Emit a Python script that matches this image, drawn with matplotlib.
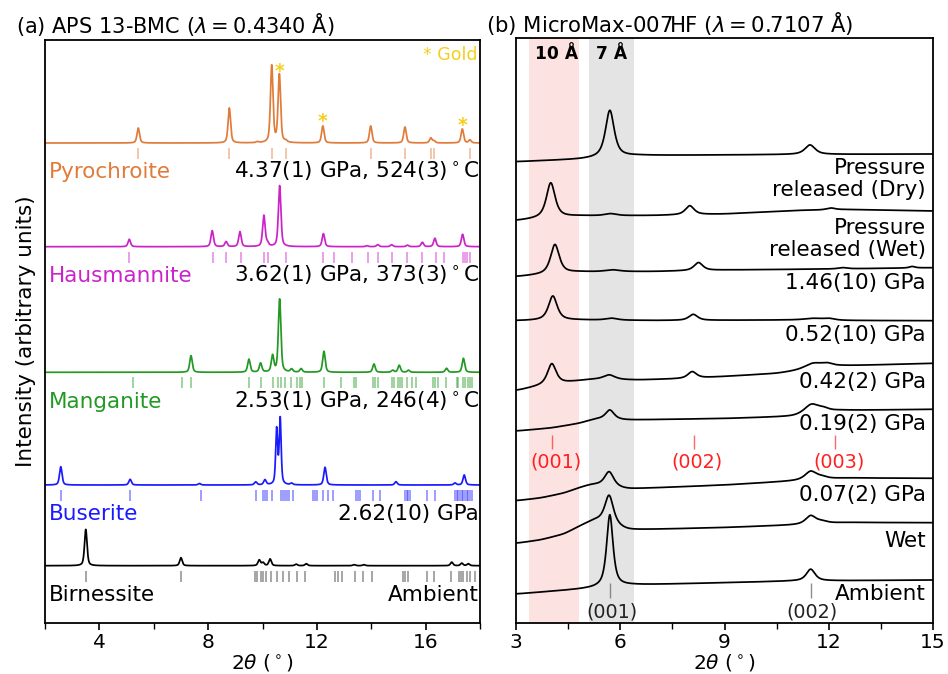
import numpy as np
import matplotlib
matplotlib.use("Agg")
import matplotlib.pyplot as plt

plt.rcParams['font.family'] = ['DejaVu Sans']
plt.rcParams['mathtext.fontset'] = 'dejavusans'

# ---------------- Panel (a) data : APS 13-BMC ----------------
phase_names = ["Pyrochroite", "Hausmannite", "Manganite", "Buserite", "Birnessite"]
phase_conditions = ["4.37(1) GPa, 524(3)$^\\circ$C", "3.62(1) GPa, 373(3)$^\\circ$C",
                    "2.53(1) GPa, 246(4)$^\\circ$C", "2.62(10) GPa", "Ambient"]
phase_colors = ["#e07b39", "#cc22cc", "#229922", "#1a1aff", "#000000"]
phase_tick_colors = ["#e07b39", "#cc22cc", "#229922", "#1a1aff", "#303030"]
phase_offsets = [480.0, 376.3, 250.7, 138.0, 57.3]

pyro_pos = [5.43, 8.78, 9.81, 10.34, 10.62, 10.86, 12.22, 13.98, 15.24, 16.19, 16.31, 17.35, 17.63]
pyro_h = [15, 35, 1, 77, 68, 1.5, 17, 17, 16, 5, 2, 14, 3]
pyro_ticks = [5.43, 8.78, 10.34, 10.86, 13.98, 15.24, 16.19, 16.31, 17.63]

haus_pos = [5.10, 8.15, 8.66, 9.17, 10.05, 10.18, 10.63, 12.24, 13.84, 14.24, 14.75, 15.33, 15.88, 16.34, 17.36]
haus_h = [7.4, 16, 5, 15, 31, 3, 61, 13, 1, 2, 2, 1.5, 4.4, 8.4, 12.4]
haus_ticks = [5.10, 8.19, 8.66, 9.21, 10.06, 10.19, 10.85, 12.24, 12.64, 13.28, 13.89, 14.26, 14.75,
              15.33, 15.88, 16.38, 16.69, 17.36, 17.45, 17.53, 17.63]

mang_pos = [7.37, 9.50, 9.93, 10.37, 10.63, 11.07, 11.42, 12.26, 14.10, 14.79, 15.03, 15.37, 16.77, 17.39]
mang_h = [16.7, 13, 9, 16.3, 73, 3, 3.5, 21, 8.3, 2, 7, 2, 4, 14]
mang_ticks = [5.22, 7.03, 7.37, 9.50, 9.93, 10.40, 10.56, 10.68, 10.83, 11.04, 11.26, 11.38, 11.47,
              12.26, 12.88, 13.38, 13.44, 14.08, 14.14, 14.24, 14.75, 14.84, 15.00, 15.06, 15.14,
              15.33, 15.49, 15.65, 16.28, 16.34, 16.44, 16.74, 17.14, 17.20, 17.39, 17.45, 17.57,
              17.63, 17.69]

bus_pos = [2.58, 5.13, 7.68, 9.75, 10.09, 10.52, 10.65, 11.07, 12.30, 14.91, 17.08, 17.42]
bus_h = [18.3, 5.7, 1.5, 3, 5, 55, 65.7, 1.5, 17.7, 3.3, 2, 10]
bus_ticks = [2.58, 5.13, 7.74, 9.75, 10.03, 10.09, 10.15, 10.34, 10.68, 10.74, 10.83, 10.91, 10.99,
             11.13, 11.87, 11.93, 11.99, 12.24, 12.40, 12.58, 13.44, 13.52, 13.59, 14.08, 14.32,
             15.24, 15.30, 15.36, 15.42, 16.04, 16.34, 17.08, 17.14, 17.20, 17.26, 17.32, 17.39,
             17.45, 17.51, 17.57, 17.63, 17.69]

birn_pos = [3.50, 7.0, 9.88, 10.02, 10.28, 11.24, 11.61, 13.37, 13.73, 16.96, 17.33, 17.57]
birn_h = [36.3, 8, 5.7, 3, 6.7, 1.5, 2, 1, 1, 3.5, 2.5, 2]
birn_ticks = [3.51, 7.00, 9.72, 9.81, 9.93, 10.03, 10.12, 10.30, 10.52, 10.74, 10.99, 11.26, 11.56,
              12.67, 12.79, 12.91, 13.40, 13.71, 14.01, 15.18, 15.24, 15.36, 16.04, 16.31, 16.92,
              17.24, 17.30, 17.36, 17.51, 17.63, 17.82]

phase_peaks = [(pyro_pos, pyro_h), (haus_pos, haus_h), (mang_pos, mang_h), (bus_pos, bus_h), (birn_pos, birn_h)]
phase_ticks = [pyro_ticks, haus_ticks, mang_ticks, bus_ticks, birn_ticks]
gold_peaks = [10.62, 12.22, 17.35]

# ---------------- Panel (b) data : MicroMax-007HF ----------------
lab_labels = ["Pressure\nreleased (Dry)", "Pressure\nreleased (Wet)", "1.46(10) GPa", "0.52(10) GPa",
              "0.42(2) GPa", "0.19(2) GPa", "0.07(2) GPa", "Wet", "Ambient"]
lab_label_y = [443.8, 384.1, 340.3, 288.0, 241.3, 199.0, 128.0, 82.0, 29.0]

dry_bg_x = [3, 4.8, 6.5, 11, 15]
dry_bg_y = [461.3, 463.7, 467.5, 468.5, 469.0]
dry_pk = [5.70, 11.46]
dry_h = [47, 9.5]
dry_w = [0.30, 0.35]

wetrel_bg_x = [3, 3.7, 4.8, 7, 9, 11, 12.5, 15]
wetrel_bg_y = [402.3, 404.5, 407.0, 407.5, 409.0, 412.5, 413.5, 412.0]
wetrel_pk = [4.0, 5.72, 8.0, 12.06]
wetrel_h = [35, 2, 9, 1.8]
wetrel_w = [0.30, 0.4, 0.3, 0.3]

p146_bg_x = [3, 4.8, 7, 9, 12, 15]
p146_bg_y = [346.3, 351.0, 351.5, 353.0, 354.0, 355.3]
p146_pk = [4.12, 5.78, 8.25, 12.4, 14.4]
p146_h = [29.3, 1.8, 8, 1.2, 1.5]
p146_w = [0.30, 0.5, 0.3, 0.3, 0.2]

p052_bg_x = [3, 4.8, 7, 11, 12.5, 15]
p052_bg_y = [302.3, 303.0, 302.5, 303.0, 302.5, 302.3]
p052_pk = [4.06, 5.75, 8.10, 11.55, 12.0]
p052_h = [24.3, 1.9, 6, 1.7, 1.7]
p052_w = [0.30, 0.4, 0.3, 0.6, 0.4]

p042_bg_x = [3, 3.7, 4.8, 5.2, 6.5, 8, 10.5, 11.3, 12.3, 15]
p042_bg_y = [232.3, 237.0, 242.0, 243.5, 243.0, 244.5, 249.5, 253.0, 257.0, 259.7]
p042_pk = [4.03, 5.68, 8.07, 11.55, 11.95]
p042_h = [20.8, 4.7, 6.7, 5.5, 3]
p042_w = [0.30, 0.4, 0.3, 0.6, 0.4]

p019_bg_x = [3, 4.0, 4.8, 5.3, 6.2, 9, 11, 12.3, 15]
p019_bg_y = [192.0, 195.0, 199.5, 204.0, 203.0, 204.5, 206.5, 212.5, 213.7]
p019_pk = [5.70, 11.5, 11.85]
p019_h = [9.5, 9.5, 3]
p019_w = [0.30, 0.5, 0.4]

p007_bg_x = [3, 3.7, 4.4, 4.8, 5.2, 6.2, 9, 11, 12.5, 15]
p007_bg_y = [122.3, 125.0, 130.0, 135.0, 138.5, 134.0, 138.0, 142.0, 145.0, 144.7]
p007_pk = [5.68, 11.48, 11.8]
p007_h = [15, 8.5, 2]
p007_w = [0.32, 0.4, 0.4]

wet_bg_x = [3, 3.7, 4.4, 4.8, 5.3, 6.2, 9, 11, 12.5, 15]
wet_bg_y = [79.7, 83.0, 89.0, 96.3, 103.0, 93.0, 95.5, 98.0, 100.5, 100.3]
wet_pk = [5.68, 11.48, 11.8]
wet_h = [29, 8.3, 2]
wet_w = [0.30, 0.35, 0.4]

amb_bg_x = [3, 4.8, 6.3, 11, 15]
amb_bg_y = [29.0, 33.7, 38.0, 42.0, 43.0]
amb_pk = [5.70, 11.48]
amb_h = [72, 11.7]
amb_w = [0.22, 0.30]

lab_traces = [
    (dry_bg_x, dry_bg_y, dry_pk, dry_h, dry_w),
    (wetrel_bg_x, wetrel_bg_y, wetrel_pk, wetrel_h, wetrel_w),
    (p146_bg_x, p146_bg_y, p146_pk, p146_h, p146_w),
    (p052_bg_x, p052_bg_y, p052_pk, p052_h, p052_w),
    (p042_bg_x, p042_bg_y, p042_pk, p042_h, p042_w),
    (p019_bg_x, p019_bg_y, p019_pk, p019_h, p019_w),
    (p007_bg_x, p007_bg_y, p007_pk, p007_h, p007_w),
    (wet_bg_x, wet_bg_y, wet_pk, wet_h, wet_w),
    (amb_bg_x, amb_bg_y, amb_pk, amb_h, amb_w),
]

buserite_refl = [4.04, 8.11, 12.19]
buserite_refl_labels = ["(001)", "(002)", "(003)"]
birnessite_refl = [5.70, 11.48]
birnessite_refl_labels = ["(001)", "(002)"]


def pvoigt(x, x0, h, w, eta):
    d = (x - x0) / w
    return h * (eta / (1 + 4 * d ** 2) + (1 - eta) * np.exp(-4 * np.log(2) * d ** 2))


def smooth(y, x, sigma):
    dx = x[1] - x[0]
    n = int(4 * sigma / dx)
    k = np.exp(-0.5 * (np.arange(-n, n + 1) * dx / sigma) ** 2)
    k /= k.sum()
    yp = np.concatenate([np.full(n, y[0]), y, np.full(n, y[-1])])
    return np.convolve(yp, k, mode='valid')


FS = 15.5

fig = plt.figure(figsize=(9.48, 6.74), dpi=100)
axa = fig.add_axes([45 / 948, 1 - 623 / 674, 435 / 948, 583 / 674])
axb = fig.add_axes([516 / 948, 1 - 623 / 674, 417 / 948, 585 / 674])

# ---------------- Panel (a) ----------------
xa = np.linspace(2, 18, 4000)
for i, name in enumerate(phase_names):
    pos, hh = phase_peaks[i]
    y = np.full_like(xa, phase_offsets[i])
    for p, h in zip(pos, hh):
        w = 0.085 if name == "Buserite" and 10.4 < p < 10.8 else 0.11
        y += pvoigt(xa, p, h, w, 0.5)
    axa.plot(xa, y, color=phase_colors[i], lw=1.25)
    top = phase_offsets[i] - 5
    axa.vlines(phase_ticks[i], top - 11, top, color=phase_tick_colors[i], alpha=0.5, lw=1.2)
    axa.text(2.13, phase_offsets[i] - 35.3, name, color=phase_colors[i], fontsize=FS,
             ha='left', va='baseline')
    axa.text(17.95, phase_offsets[i] - 35.3, phase_conditions[i], color='black', fontsize=FS,
             ha='right', va='baseline')

pyro_arr_pos = np.array(pyro_pos)
for g in gold_peaks:
    top = phase_offsets[0] + pyro_h[int(np.argmin(np.abs(pyro_arr_pos - g)))]
    axa.text(g, top - 1.5, "*", color="#f5cf1c", fontsize=13.5, ha='center', va='baseline',
             fontweight='bold')
axa.text(17.9, 563, "* Gold", color="#f5cf1c", fontsize=12.5, ha='right', va='baseline')

axa.set_xlim(2, 18)
axa.set_ylim(0, 583)
axa.set_yticks([])
axa.set_xticks([4, 8, 12, 16])
axa.set_xticks([2, 6, 10, 14, 18], minor=True)
axa.set_xlabel("$2\\theta$ ($^\\circ$)", fontsize=14.5, labelpad=0)
axa.set_ylabel("Intensity (arbitrary units)", fontsize=FS)
axa.yaxis.set_label_coords(-0.021, 0.5)

# ---------------- Panel (b) ----------------
xb = np.linspace(3, 15, 3000)
axb.axvspan(3.38, 4.80, color="#fde2e2", lw=0, zorder=0)
axb.axvspan(5.10, 6.40, color="#e4e4e4", lw=0, zorder=0)
axb.text(4.17, 569, "10 Å", fontsize=12.3, fontweight='bold', ha='center', va='center')
axb.text(5.75, 569, "7 Å", fontsize=12.3, fontweight='bold', ha='center', va='center')

for (bx, by, pk, hh, ww), lab, ly in zip(lab_traces, lab_labels, lab_label_y):
    y = smooth(np.interp(xb, bx, by), xb, 0.12)
    for p, h, w in zip(pk, hh, ww):
        y += pvoigt(xb, p, h, w, 0.75)
    axb.plot(xb, y, color='black', lw=1.25, zorder=2)
    axb.text(0.9825, ly, lab, transform=axb.get_yaxis_transform(), fontsize=FS,
             ha='right', va='center', linespacing=1.1)

axb.vlines(buserite_refl, 173.7, 188, color='#ff4040', lw=1.0, alpha=0.8)
for p, t in zip(buserite_refl, buserite_refl_labels):
    axb.text(p + 0.1, 160.7, t, color='#ff2020', fontsize=13.8, ha='center', va='center')
axb.vlines(birnessite_refl, 24.7, 39.7, color='#707070', lw=1.0, alpha=0.8)
for p, t in zip(birnessite_refl, birnessite_refl_labels):
    axb.text(p + 0.05, 11.3, t, color='#222222', fontsize=13.8, ha='center', va='center')

axb.set_xlim(3, 15)
axb.set_ylim(0, 585)
axb.set_yticks([])
axb.set_xticks([3, 6, 9, 12, 15])
axb.set_xticks([4.5, 7.5, 10.5, 13.5], minor=True)
axb.set_xlabel("$2\\theta$ ($^\\circ$)", fontsize=14.5, labelpad=0)

for ax in (axa, axb):
    for s in ax.spines.values():
        s.set_linewidth(1.3)
    ax.tick_params(axis='x', which='major', labelsize=14.5, length=5, width=1.2, pad=2.5)
    ax.tick_params(axis='x', which='minor', length=4, width=1.0)

fig.text(16 / 948, 1 - 33 / 674, "(a) APS 13-BMC ($\\lambda = 0.4340$ Å)", fontsize=15,
         ha='left', va='baseline')
fig.text(486 / 948, 1 - 32 / 674, "(b) MicroMax-007HF ($\\lambda = 0.7107$ Å)", fontsize=15.3,
         ha='left', va='baseline')

fig.savefig("out.png", dpi=100)
